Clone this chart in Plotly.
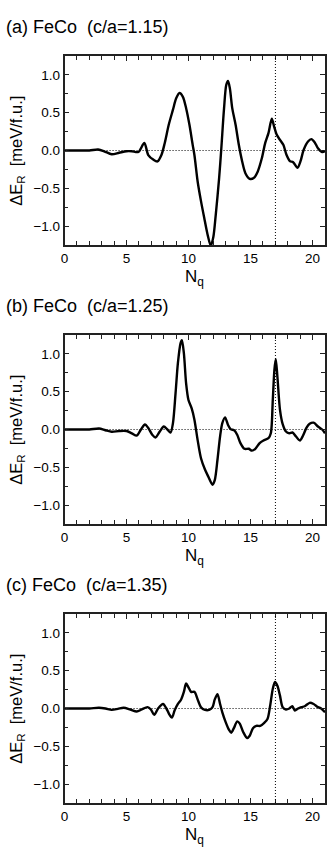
import plotly.graph_objects as go
from plotly.subplots import make_subplots

# panel titles
titles = ["(a) FeCo  (c/a=1.15)", "(b) FeCo  (c/a=1.25)", "(c) FeCo  (c/a=1.35)"]

# (a) c/a = 1.15
Nq_a = [0, 1, 2, 2.7, 3.2, 3.8, 4.4, 5.0, 5.42, 5.95, 6.43, 6.75, 7.15, 7.49, 7.81, 8.08, 8.4,
        8.74, 9.0, 9.27, 9.54, 9.8, 10.07, 10.33, 10.47, 10.73, 11.0, 11.26, 11.53, 11.79, 12.0,
        12.19, 12.46, 12.64, 12.86, 13.04, 13.18, 13.33, 13.52, 13.79, 14.05, 14.32, 14.58,
        14.93, 15.25, 15.57, 15.91, 16.18, 16.44, 16.71, 16.89, 17.1, 17.37, 17.64, 17.9,
        18.17, 18.43, 18.78, 19.02, 19.28, 19.63, 19.9, 20.16, 20.43, 20.77, 21.0]
dE_a = [0, 0, 0.0, 0.013, -0.01, -0.05, -0.03, -0.01, -0.01, -0.02, 0.10, -0.06, -0.12, -0.145,
        -0.06, 0.10, 0.34, 0.54, 0.69, 0.76, 0.71, 0.56, 0.34, 0.075, -0.06, -0.41, -0.67,
        -0.89, -1.11, -1.26, -1.14, -0.85, -0.37, 0.03, 0.56, 0.87, 0.92, 0.82, 0.56, 0.34,
        0.075, -0.145, -0.30, -0.375, -0.365, -0.28, -0.10, 0.10, 0.23, 0.42, 0.32, 0.21,
        0.14, 0.075, -0.06, -0.14, -0.155, -0.23, -0.145, 0.01, 0.12, 0.15, 0.11, 0.03,
        -0.02, -0.01]

# (b) c/a = 1.25
Nq_b = [0, 1, 2, 2.77, 3.3, 3.8, 4.4, 5.0, 5.42, 5.82, 6.16, 6.48, 6.75, 7.07, 7.33, 7.68, 8.0,
        8.29, 8.55, 8.74, 8.95, 9.14, 9.35, 9.46, 9.62, 9.8, 9.99, 10.25, 10.47, 10.73, 11.0,
        11.32, 11.58, 11.93, 12.11, 12.33, 12.54, 12.72, 12.94, 13.18, 13.39, 13.7, 13.92,
        14.18, 14.5, 14.85, 15.11, 15.38, 15.73, 16.04, 16.44, 16.63, 16.79, 16.92, 17.03,
        17.16, 17.37, 17.58, 17.85, 18.12, 18.38, 18.65, 18.97, 19.23, 19.5, 19.76, 20.08,
        20.43, 20.77, 21.0]
dE_b = [0, 0, 0.0, 0.013, -0.01, -0.03, -0.02, -0.02, -0.05, -0.08, 0.0, 0.066, 0.02, -0.07,
        -0.105, -0.026, 0.04, 0.0, -0.04, 0.084, 0.48, 0.88, 1.14, 1.18, 1.01, 0.61, 0.39,
        0.28, 0.13, -0.14, -0.38, -0.53, -0.62, -0.73, -0.67, -0.40, -0.09, 0.084, 0.16,
        0.06, 0.005, -0.013, -0.07, -0.18, -0.255, -0.255, -0.28, -0.255, -0.18, -0.145,
        -0.115, -0.05, 0.39, 0.79, 0.93, 0.70, 0.26, 0.075, -0.026, -0.05, -0.04, -0.09,
        -0.145, -0.08, 0.02, 0.075, 0.09, 0.04, 0.0, -0.05]

# (c) c/a = 1.35
Nq_c = [0, 1, 2, 2.77, 3.3, 3.8, 4.3, 4.76, 5.3, 5.82, 6.22, 6.69, 6.96, 7.23, 7.54, 7.94, 8.21,
        8.42, 8.66, 8.87, 9.14, 9.4, 9.62, 9.8, 9.99, 10.2, 10.47, 10.73, 11.0, 11.32, 11.66,
        11.93, 12.11, 12.33, 12.54, 12.72, 12.99, 13.25, 13.44, 13.65, 13.92, 14.13, 14.4,
        14.72, 14.93, 15.19, 15.46, 15.78, 16.1, 16.36, 16.58, 16.79, 16.97, 17.16, 17.37,
        17.58, 17.85, 18.12, 18.36, 18.57, 18.83, 19.1, 19.36, 19.76, 20.08, 20.43, 20.69, 21.0]
dE_c = [0, 0, 0.0, 0.01, 0.0, -0.018, -0.005, 0.01, -0.013, -0.04, -0.013, 0.018, -0.013,
        -0.084, 0.0, 0.06, 0.0, -0.07, -0.12, -0.026, 0.06, 0.12, 0.22, 0.33, 0.28, 0.22,
        0.22, 0.12, 0.018, -0.018, -0.018, 0.018, 0.12, 0.19, 0.06, -0.05, -0.18, -0.28,
        -0.32, -0.26, -0.17, -0.20, -0.31, -0.39, -0.36, -0.26, -0.23, -0.23, -0.19, -0.14,
        0.04, 0.26, 0.35, 0.30, 0.17, 0.018, -0.013, 0.0, 0.03, -0.026, 0.0, 0.018, 0.03,
        0.075, 0.06, 0.018, 0.0, -0.05]

Nq_mark = 17  # dotted vertical line
xtickvals = [0, 5, 10, 15, 20]
ytickvals = [-1.0, -0.5, 0.0, 0.5, 1.0]
yticktext = ["\u22121.0", "\u22120.5", "0.0", "0.5", "1.0"]

W, H = 327, 851
x0, x1 = 61.5, 326
boxes = [(56, 245), (335, 524), (614, 803)]  # top/bottom pixel of each plot box

fig = make_subplots(rows=3, cols=1)
font = "Liberation Sans, Arial, sans-serif"
data = [(Nq_a, dE_a), (Nq_b, dE_b), (Nq_c, dE_c)]
dotline = dict(color="black", width=1, dash="1px,2px")

for i, ((nq, de), (top, bot)) in enumerate(zip(data, boxes)):
    r = i + 1
    fig.add_trace(go.Scatter(x=nq, y=de, mode="lines", line=dict(color="black", width=2.4, shape="spline", smoothing=0.8),
                             showlegend=False, hoverinfo="skip"), row=r, col=1)
    fig.add_hline(y=0, line=dotline, row=r, col=1)
    fig.add_vline(x=Nq_mark, line=dotline, row=r, col=1)
    fig.update_xaxes(domain=[x0 / W, x1 / W], range=[0, 21], tickvals=xtickvals,
                     ticks="inside", ticklen=5, tickwidth=1, tickcolor="#222",
                     minor=dict(dtick=1, tick0=0, ticks="inside", ticklen=4, tickcolor="#222"),
                     showline=True, linecolor="#222", linewidth=1.5, mirror="allticks",
                     showgrid=False, zeroline=False, tickfont=dict(size=13.5, color="black", family=font),
                     row=r, col=1)
    fig.update_yaxes(domain=[1 - bot / H, 1 - top / H], range=[-1.25, 1.25], tickvals=ytickvals,
                     ticktext=yticktext, ticks="inside", ticklen=5, tickwidth=1, tickcolor="#222",
                     minor=dict(dtick=0.25, tick0=0, ticks="inside", ticklen=4, tickcolor="#222"),
                     showline=True, linecolor="#222", linewidth=1.5, mirror="allticks",
                     showgrid=False, zeroline=False, tickfont=dict(size=13.5, color="black", family=font),
                     row=r, col=1)
    # panel title
    fig.add_annotation(text=titles[i], x=0, y=1 - (top - 29) / H, xref="paper", yref="paper",
                       xanchor="left", yanchor="middle", showarrow=False,
                       font=dict(size=18, color="black", family=font))
    # y label
    fig.add_annotation(text="\u0394E<sub>R</sub>  [meV/f.u.]", x=12.5 / W, y=1 - (top + bot) / 2 / H,
                       xref="paper", yref="paper", xanchor="center", yanchor="middle",
                       textangle=-90, showarrow=False, font=dict(size=16.5, color="black", family=font))
    # x label
    fig.add_annotation(text="N<sub>q</sub>", x=(x0 + x1) / 2 / W, y=1 - (bot + 33) / H,
                       xref="paper", yref="paper", xanchor="center", yanchor="middle",
                       showarrow=False, font=dict(size=17, color="black", family=font))

fig.update_layout(width=W, height=H, margin=dict(l=0, r=0, t=0, b=0),
                  paper_bgcolor="white", plot_bgcolor="white")
# drop the page's default body margin so the figure sits at the window's corner
fig.write_html("out.html", config={"displayModeBar": False},
               post_script="document.body.style.margin='0';document.body.style.overflow='hidden';")
